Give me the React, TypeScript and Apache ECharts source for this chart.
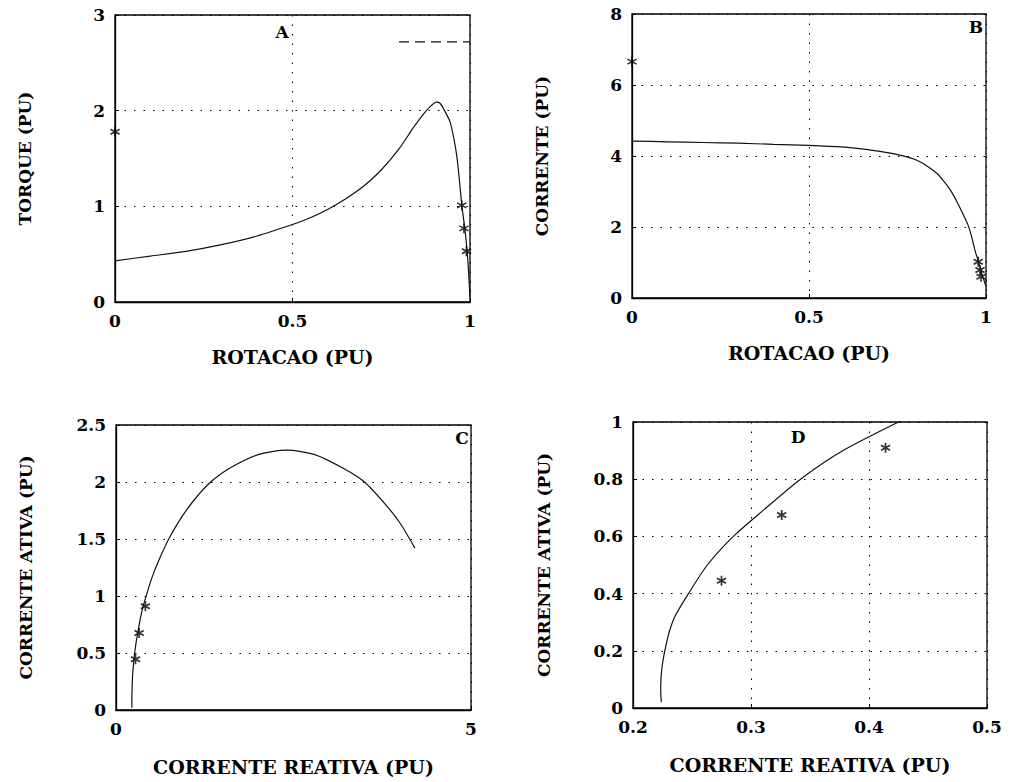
import React, { useEffect, useRef } from "react";
import * as echarts from "echarts";

// Panel A: torque vs speed
const speedA = [0, 0.1, 0.2, 0.3, 0.4, 0.5, 0.55, 0.6, 0.65, 0.7, 0.75, 0.8, 0.84, 0.87, 0.89, 0.905, 0.915, 0.93, 0.944, 0.955, 0.963, 0.97, 0.977, 0.986, 0.993, 1.0];
const torqueA = [0.43, 0.48, 0.53, 0.6, 0.69, 0.81, 0.88, 0.97, 1.08, 1.21, 1.38, 1.6, 1.82, 1.97, 2.05, 2.09, 2.08, 1.99, 1.88, 1.7, 1.52, 1.28, 1.01, 0.75, 0.48, 0.05];
const starSpeedA = [0, 0.977, 0.983, 0.99];
const starTorqueA = [1.78, 1.01, 0.77, 0.53];
const dashSpeedA = [0.8, 1.0];
const dashTorqueA = [2.72, 2.72];

// Panel B: current vs speed
const speedB = [0, 0.1, 0.2, 0.3, 0.4, 0.5, 0.6, 0.65, 0.7, 0.75, 0.8, 0.83, 0.86, 0.88, 0.9, 0.92, 0.94, 0.95, 0.96, 0.97, 0.978, 0.985, 0.99, 0.995, 1.0];
const currentB = [4.42, 4.4, 4.38, 4.36, 4.33, 4.3, 4.25, 4.2, 4.13, 4.04, 3.9, 3.74, 3.52, 3.3, 3.03, 2.67, 2.26, 2.04, 1.7, 1.3, 1.05, 0.82, 0.62, 0.48, 0.32];
const starSpeedB = [0, 0.978, 0.983, 0.986];
const starCurrentB = [6.66, 1.02, 0.79, 0.6];

// Panels C and D: active vs reactive current
const reactive = [0.224, 0.2235, 0.2237, 0.2245, 0.226, 0.228, 0.231, 0.2355, 0.247, 0.263, 0.285, 0.31, 0.342, 0.378, 0.425, 0.5, 0.6, 0.76, 1.0, 1.3, 1.6, 2.0, 2.4, 2.8, 3.2, 3.5, 3.8, 4.0, 4.21];
const active = [0.02, 0.06, 0.1, 0.14, 0.18, 0.22, 0.27, 0.32, 0.4, 0.5, 0.6, 0.69, 0.8, 0.9, 1.0, 1.15, 1.31, 1.52, 1.76, 1.98, 2.12, 2.24, 2.28, 2.24, 2.12, 2.0, 1.8, 1.64, 1.42];
const starReactive = [0.275, 0.326, 0.414];
const starActive = [0.445, 0.675, 0.91];

const panelLabels = ["A", "B", "C", "D"];
const xNames = ["ROTACAO (PU)", "ROTACAO (PU)", "CORRENTE REATIVA (PU)", "CORRENTE REATIVA (PU)"];
const yNames = ["TORQUE (PU)", "CORRENTE (PU)", "CORRENTE ATIVA (PU)", "CORRENTE ATIVA (PU)"];

const zip = (xs: number[], ys: number[]) => xs.map((x, i) => [x, ys[i]]);

const STAR =
  "path://M-0.8,-5L0.8,-5L0.8,5L-0.8,5Z M3.93,-3.19L4.73,-1.81L-3.93,3.19L-4.73,1.81Z M4.73,1.81L3.93,3.19L-4.73,-1.81L-3.93,-3.19Z";

const FONT = "DejaVu Serif";

export default function App() {
  const ref = useRef<HTMLDivElement>(null);
  useEffect(() => {
    if (!ref.current) return;
    const chart = echarts.init(ref.current, undefined, { renderer: "svg" });
    const grids = [
      { left: 115, top: 15, width: 355, height: 287 },
      { left: 632, top: 14, width: 354, height: 284 },
      { left: 116, top: 425, width: 355, height: 285 },
      { left: 633, top: 422, width: 354, height: 286 },
    ];
    const xr = [
      [0, 1, 0.5],
      [0, 1, 0.5],
      [0, 5, 5],
      [0.2, 0.5, 0.1],
    ];
    const yr = [
      [0, 3, 1],
      [0, 8, 2],
      [0, 2.5, 0.5],
      [0, 1, 0.2],
    ];
    const xGaps = [45, 45, 47, 47];
    const yGaps = [82, 82, 82, 81];
    const axisCommon = {
      axisLine: { show: true, onZero: false, lineStyle: { color: "#000", width: 1.3 } },
      axisTick: { show: true, inside: true, length: 4, lineStyle: { color: "#000" } },
      splitLine: { show: true, lineStyle: { color: "#000", type: [1.5, 8], width: 1 } },
      axisLabel: { color: "#000", fontFamily: FONT, fontSize: 17, fontWeight: "bold" },
      nameLocation: "middle" as const,
      nameTextStyle: { color: "#000", fontFamily: FONT, fontSize: 19, fontWeight: "bold" },
    };
    const xAxis = grids.map((_, i) => ({
      ...axisCommon,
      type: "value",
      gridIndex: i,
      min: xr[i][0],
      max: xr[i][1],
      interval: xr[i][2],
      name: xNames[i],
      nameGap: xGaps[i],
      axisLabel: { ...axisCommon.axisLabel, margin: 10 },
    }));
    const yAxis = grids.map((_, i) => ({
      ...axisCommon,
      type: "value",
      gridIndex: i,
      min: yr[i][0],
      max: yr[i][1],
      interval: yr[i][2],
      name: yNames[i],
      nameGap: yGaps[i],
      nameTextStyle: { ...axisCommon.nameTextStyle, fontSize: 17 },
      axisLabel: { ...axisCommon.axisLabel, margin: 10 },
    }));
    const lineS = (i: number, data: number[][], dashed = false) => ({
      type: "line",
      xAxisIndex: i,
      yAxisIndex: i,
      data,
      showSymbol: false,
      symbol: "none",
      smooth: dashed ? false : 0.25,
      lineStyle: { color: "#111", width: 1.2, type: dashed ? [10, 6] : "solid" },
      clip: true,
    });
    const starS = (i: number, data: number[][]) => ({
      type: "scatter",
      xAxisIndex: i,
      yAxisIndex: i,
      data,
      symbol: STAR,
      symbolSize: 10,
      itemStyle: { color: "#000" },
      clip: false,
    });
    const labelPos = [
      [282, 32],
      [976, 27],
      [462, 438],
      [798, 437],
    ];
    chart.setOption({
      animation: false,
      backgroundColor: "#fff",
      grid: grids.map((g) => ({ ...g, show: true, borderColor: "#000", borderWidth: 1.3, backgroundColor: "transparent" })),
      xAxis,
      yAxis,
      series: [
        lineS(0, zip(speedA, torqueA)),
        lineS(0, zip(dashSpeedA, dashTorqueA), true),
        starS(0, zip(starSpeedA, starTorqueA)),
        lineS(1, zip(speedB, currentB)),
        starS(1, zip(starSpeedB, starCurrentB)),
        lineS(2, zip(reactive, active)),
        starS(2, zip(starReactive, starActive)),
        lineS(3, zip(reactive, active)),
        starS(3, zip(starReactive, starActive)),
      ],
      graphic: panelLabels.map((t, i) => ({
        type: "text",
        x: labelPos[i][0],
        y: labelPos[i][1],
        style: { text: t, fill: "#000", font: `bold 17px "${FONT}"`, align: "center", verticalAlign: "middle" },
      })),
    });
    return () => chart.dispose();
  }, []);
  return (
    <div
      ref={ref}
      style={{ position: "absolute", left: 0, top: 0, width: 1012, height: 782, background: "#fff" }}
    />
  );
}
